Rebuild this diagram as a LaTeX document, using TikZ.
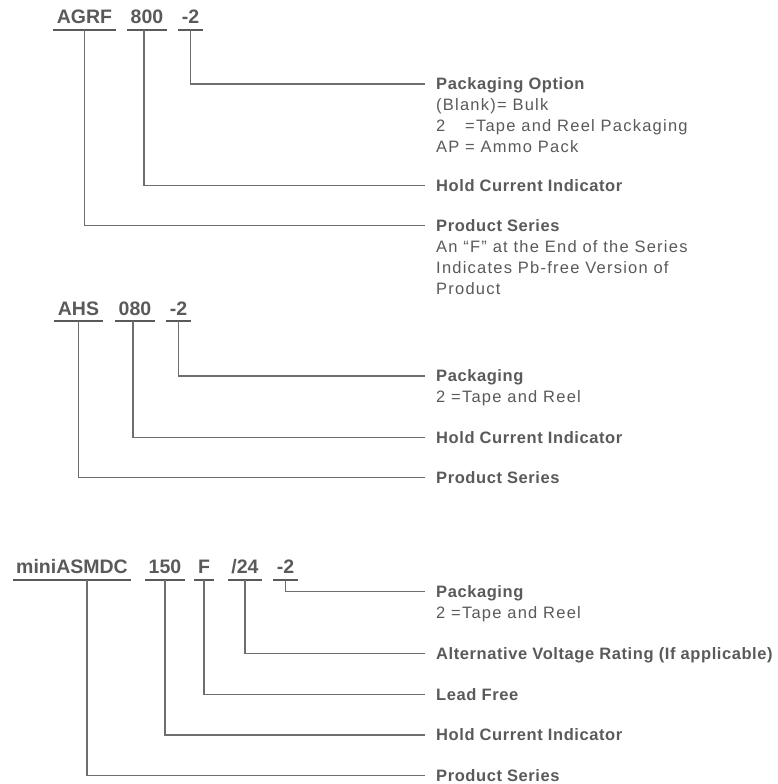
\documentclass[tikz,border=0pt]{standalone}
\usepackage{fontspec}
\setmainfont{Liberation Sans}
\newfontfamily\lblfont{Liberation Sans}[LetterSpace=3.5]
\newfontfamily\dscfont{Liberation Sans}[LetterSpace=7.5]
\usetikzlibrary{calc}
\definecolor{txt}{HTML}{5A5A5A}
\definecolor{ln}{HTML}{6E6E6E}
\begin{document}
\begin{tikzpicture}[x=1pt,y=-1pt,
  part/.style={font=\fontsize{19.5}{20}\selectfont\bfseries, text=txt, anchor=base,
    text height=14pt, text depth=0pt, inner xsep=3.5pt, inner ysep=6pt},
  ttl/.style={font=\lblfont\fontsize{16.5}{21}\selectfont\bfseries, text=txt, anchor=west,
    text height=11.5pt, text depth=0pt, inner xsep=0pt, inner ysep=0pt},
  dsc/.style={font=\dscfont\fontsize{16.5}{21}\selectfont, text=txt, anchor=base west,
    align=left, inner sep=0pt},
  conn/.style={draw=ln, line width=1.2pt},
  uline/.style={draw=txt, line width=2.4pt}]
\path[fill=white, use as bounding box] (0,0) rectangle (778,784);

% ---------- Section 1: AGRF 800 -2 ----------
\node[part] (a1) at (84.5,24) {AGRF};
\node[part] (a2) at (147,24) {800};
\node[part] (a3) at (190.5,24) {-2};
\foreach \n in {a1,a2,a3} \draw[uline] (\n.south west) -- (\n.south east);

\node[ttl] (ta1) at (436,84) {Packaging Option};
\node[dsc] (da1) at (436,152.5) {(Blank)= Bulk\\\makebox[29pt][l]{2}=Tape and Reel Packaging\\\makebox[29pt][l]{AP}= Ammo Pack};
\node[ttl] (ta2) at (436,185.5) {Hold Current Indicator};
\node[ttl] (ta3) at (436,225.7) {Product Series};
\node[dsc] (da3) at (436,294.2) {An “F” at the End of the Series\\Indicates Pb-free Version of\\Product};

\draw[conn] (a3.south) |- ([xshift=-11pt]ta1.west);
\draw[conn] ([xshift=-3pt]a2.south) |- ([xshift=-11pt]ta2.west);
\draw[conn] (a1.south) |- ([xshift=-11pt]ta3.west);

% ---------- Section 2: AHS 080 -2 ----------
\node[part] (b1) at (78.5,315) {AHS};
\node[part] (b2) at (135,315) {080};
\node[part] (b3) at (178.5,315) {-2};
\foreach \n in {b1,b2,b3} \draw[uline] (\n.south west) -- (\n.south east);

\node[ttl] (tb1) at (436,376) {Packaging};
\node[dsc] (db1) at (436,402.5) {2 =Tape and Reel};
\node[ttl] (tb2) at (436,437.5) {Hold Current Indicator};
\node[ttl] (tb3) at (436,477.5) {Product Series};

\draw[conn] (b3.south) |- ([xshift=-11pt]tb1.west);
\draw[conn] ([xshift=-2pt]b2.south) |- ([xshift=-11pt]tb2.west);
\draw[conn] (b1.south) |- ([xshift=-11pt]tb3.west);

% ---------- Section 3: miniASMDC 150 F /24 -2 ----------
\node[part] (c1) at (72,573.5) {miniASMDC};
\node[part] (c2) at (165,573.5) {150};
\node[part] (c3) at (204,573.5) {F};
\node[part] (c4) at (245,573.5) {/24};
\node[part] (c5) at (285.5,573.5) {-2};
\foreach \n in {c1,c2,c3,c4,c5} \draw[uline] (\n.south west) -- (\n.south east);

\node[ttl] (tc1) at (436,591.7) {Packaging};
\node[dsc] (dc1) at (436,618.2) {2 =Tape and Reel};
\node[ttl] (tc2) at (436,653.3) {Alternative Voltage Rating (If applicable)};
\node[ttl] (tc3) at (436,694.3) {Lead Free};
\node[ttl] (tc4) at (436,735) {Hold Current Indicator};
\node[ttl] (tc5) at (436,775.7) {Product Series};

\draw[conn] (c5.south) |- ([xshift=-11pt]tc1.west);
\draw[conn] (c4.south) |- ([xshift=-11pt]tc2.west);
\draw[conn] (c3.south) |- ([xshift=-11pt]tc3.west);
\draw[conn] (c2.south) |- ([xshift=-11pt]tc4.west);
\draw[conn] ([xshift=15pt]c1.south) |- ([xshift=-11pt]tc5.west);
\end{tikzpicture}
\end{document}
